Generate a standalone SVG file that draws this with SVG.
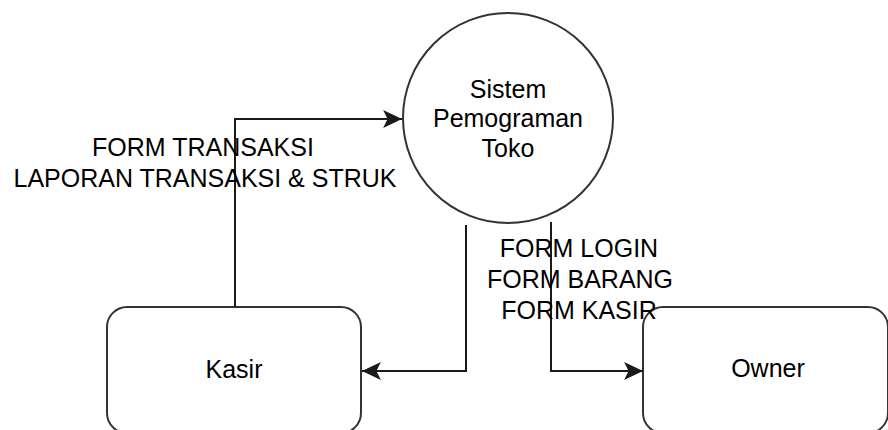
<svg xmlns="http://www.w3.org/2000/svg" width="888" height="430" viewBox="0 0 888 430">
<style>
.shape{fill:#fff;stroke:#333;stroke-width:2}
.edge{fill:none;stroke:#1a1a1a;stroke-width:2}
.t{font-family:"Liberation Sans",Arial,sans-serif;font-size:25px;fill:#000;text-anchor:middle}
</style>
<defs>
<marker id="arr" markerUnits="userSpaceOnUse" markerWidth="20" markerHeight="20" viewBox="0 0 18 18" refX="17" refY="9" orient="auto">
<path d="M0,1 L17,9 L0,17 L4,9 Z" fill="#1a1a1a"/>
</marker>
</defs>
<rect width="888" height="430" fill="#fff"/>
<g id="sistem">
<circle class="shape" cx="508" cy="118" r="105"/>
<text class="t" x="508" y="98">Sistem</text>
<text class="t" x="508" y="127">Pemograman</text>
<text class="t" x="508" y="157">Toko</text>
</g>
<g id="kasir">
<rect class="shape" x="107" y="307" width="254" height="126" rx="20" ry="20"/>
<text class="t" x="234" y="378">Kasir</text>
</g>
<g id="owner">
<rect class="shape" x="643" y="307" width="245" height="126" rx="20" ry="20"/>
<text class="t" x="768" y="377">Owner</text>
</g>
<g id="connectors">
<path class="edge" d="M235,307 L235,119 L402,119" marker-end="url(#arr)"/>
<path class="edge" d="M466,225 L466,371 L362,371" marker-end="url(#arr)"/>
<path class="edge" d="M551,222 L551,371 L643,371" marker-end="url(#arr)"/>
<text class="t" x="203" y="156">FORM TRANSAKSI</text>
<text class="t" x="205" y="187">LAPORAN TRANSAKSI &amp; STRUK</text>
<text class="t" x="579" y="257">FORM LOGIN</text>
<text class="t" x="580" y="288">FORM BARANG</text>
<text class="t" x="579" y="319">FORM KASIR</text>
</g>
</svg>
